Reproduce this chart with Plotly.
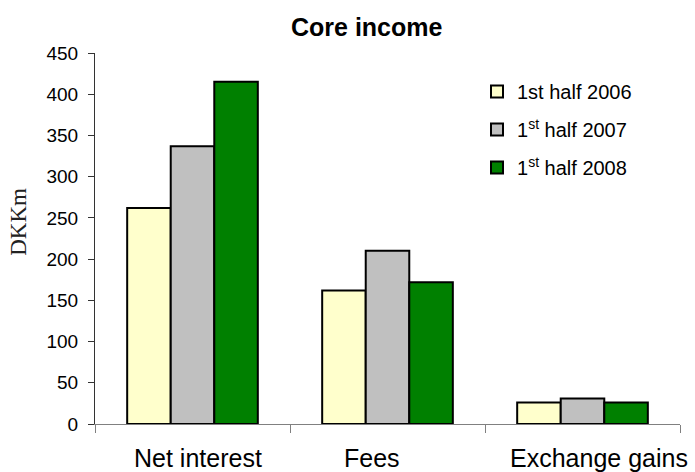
import plotly.graph_objects as go

# Core income by category, DKK millions
categories = ["Net interest", "Fees", "Exchange gains"]
series_names = ["1st half 2006", "1<sup>st</sup> half 2007", "1<sup>st</sup> half 2008"]
h1_2006 = [262, 162, 26]
h1_2007 = [337, 210, 31]
h1_2008 = [415, 172, 26]
series_values = [h1_2006, h1_2007, h1_2008]
series_colors = ["#FFFFCC", "#C0C0C0", "#008000"]
y_ticks = [0, 50, 100, 150, 200, 250, 300, 350, 400, 450]

# horizontal nudges of the category captions (px)
label_shift = [5, -16, 16]

W, H = 695, 472
ML, MR, MT, MB = 95, 15, 53, 47.5
plot_w = W - ML - MR
plot_h = H - MT - MB

fig = go.Figure()
for i, (name, vals, col) in enumerate(zip(series_names, series_values, series_colors)):
    fig.add_trace(go.Bar(
        x=categories, y=vals, name=name,
        marker=dict(color=col, line=dict(color="black", width=2)),
        legendgroup=f"g{i}",
    ))

for cat, dx in zip(categories, label_shift):
    fig.add_annotation(
        x=cat, xref="x", y=-(459 - (H - MB)) / plot_h, yref="paper",
        text=cat, showarrow=False, xshift=dx,
        xanchor="center", yanchor="middle",
        font=dict(family="Liberation Sans, Arial", size=25, color="black"),
    )

# axis title
fig.add_annotation(
    x=(19 - ML) / plot_w, xref="paper", y=((H - MB) - 222) / plot_h, yref="paper",
    text="DKKm", textangle=-90, showarrow=False,
    xanchor="center", yanchor="middle",
    font=dict(family="Liberation Serif, DejaVu Serif, serif", size=23, color="#222"),
)

# chart title
fig.add_annotation(
    x=(367 - ML) / plot_w, xref="paper", y=((H - MB) - 27) / plot_h, yref="paper",
    text="<b>Core income</b>", showarrow=False,
    xanchor="center", yanchor="middle",
    font=dict(family="Liberation Sans, Arial", size=25, color="black"),
)

fig.update_layout(
    width=W, height=H,
    margin=dict(l=ML, r=MR, t=MT, b=MB, pad=0),
    paper_bgcolor="white", plot_bgcolor="white",
    barmode="group", bargap=0.33, bargroupgap=0,
    font=dict(family="Liberation Sans, Arial", color="black"),
    showlegend=True,
    legend=dict(
        x=(477 - ML) / plot_w, xanchor="left",
        y=((H - MB) - 72) / plot_h, yanchor="top",
        font=dict(size=20, color="black"),
        bgcolor="rgba(0,0,0,0)", tracegroupgap=9,
        traceorder="grouped",
    ),
    xaxis=dict(
        type="category", showticklabels=False,
        showline=True, linecolor="#808080", linewidth=1,
        ticks="outside", ticklen=8, tickcolor="#808080", tickson="boundaries",
        showgrid=False, zeroline=False, range=[-0.5, 2.5],
    ),
    yaxis=dict(
        range=[0, 450], tickvals=y_ticks,
        showline=True, linecolor="#333", linewidth=1,
        ticks="outside", ticklen=6, tickcolor="#333",
        ticklabelstandoff=6,
        tickfont=dict(size=19, color="black"),
        showgrid=False, zeroline=False,
    ),
)

fig.write_html("out.html")
